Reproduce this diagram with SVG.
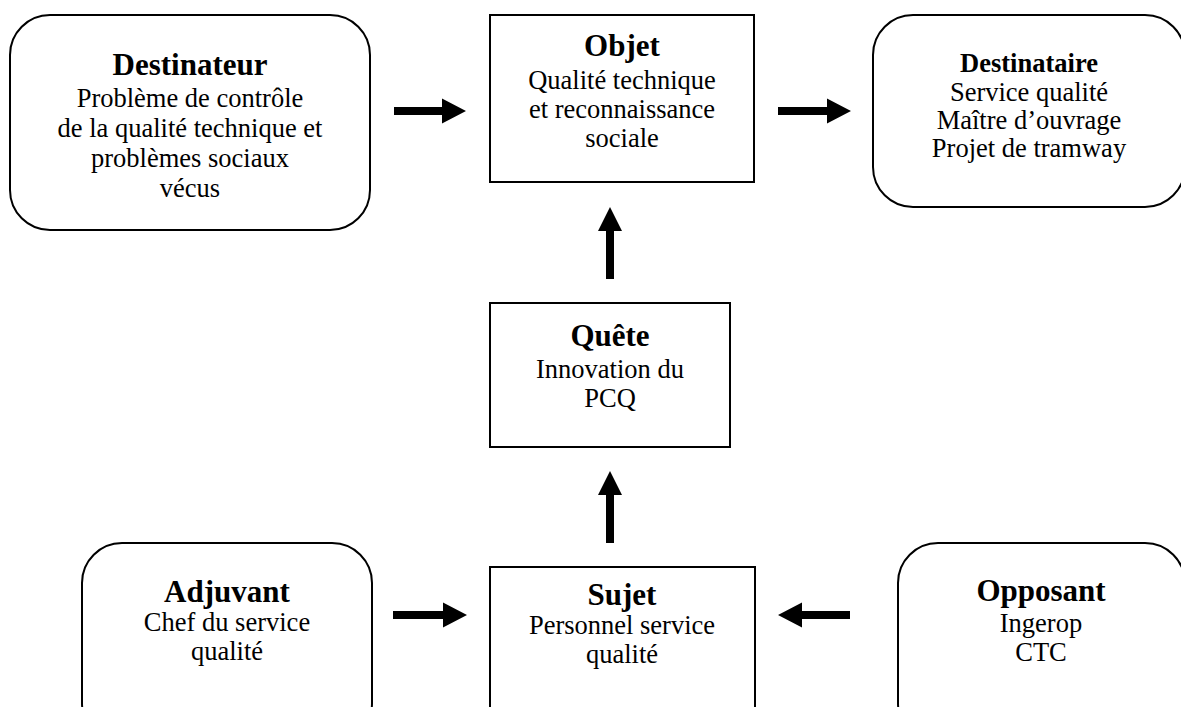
<svg xmlns="http://www.w3.org/2000/svg" width="1181" height="707" viewBox="0 0 1181 707">
<style>
.box{fill:#fff;stroke:#000;stroke-width:2}
.t{font-family:"Liberation Serif","Times New Roman",serif;font-weight:bold;font-size:31px;text-anchor:middle;fill:#000}
.ts{font-family:"Liberation Serif","Times New Roman",serif;font-weight:bold;font-size:26.5px;text-anchor:middle;fill:#000}
.b{font-family:"Liberation Serif","Times New Roman",serif;font-size:26.5px;text-anchor:middle;fill:#000}
.arr{fill:#000}
</style>
<rect width="1181" height="707" fill="#fff"/>
<g id="destinateur">
<rect class="box" x="10" y="15" width="360" height="215" rx="40" ry="40"/>
<text class="t" x="190" y="75">Destinateur</text>
<text class="b" x="190" y="107">Problème de contrôle</text>
<text class="b" x="190" y="137">de la qualité technique et</text>
<text class="b" x="190" y="167">problèmes sociaux</text>
<text class="b" x="190" y="197">vécus</text>
</g>
<g id="objet">
<rect class="box" x="490" y="15" width="264" height="167"/>
<text class="t" x="622" y="56">Objet</text>
<text class="b" x="622" y="89">Qualité technique</text>
<text class="b" x="622" y="118">et reconnaissance</text>
<text class="b" x="622" y="147">sociale</text>
</g>
<g id="destinataire">
<rect class="box" x="873" y="15" width="312" height="192" rx="40" ry="40"/>
<text class="ts" x="1029" y="72">Destinataire</text>
<text class="b" x="1029" y="101">Service qualité</text>
<text class="b" x="1029" y="129">Maître d’ouvrage</text>
<text class="b" x="1029" y="157">Projet de tramway</text>
</g>
<g id="quete">
<rect class="box" x="490" y="303" width="240" height="144"/>
<text class="t" x="610" y="346">Quête</text>
<text class="b" x="610" y="378">Innovation du</text>
<text class="b" x="610" y="407">PCQ</text>
</g>
<g id="adjuvant">
<rect class="box" x="82" y="543" width="290" height="200" rx="40" ry="40"/>
<text class="t" x="227" y="602">Adjuvant</text>
<text class="b" x="227" y="631">Chef du service</text>
<text class="b" x="227" y="660">qualité</text>
</g>
<g id="sujet">
<rect class="box" x="490" y="567" width="265" height="180"/>
<text class="t" x="622" y="605">Sujet</text>
<text class="b" x="622" y="634">Personnel service</text>
<text class="b" x="622" y="663">qualité</text>
</g>
<g id="opposant">
<rect class="box" x="898" y="543" width="287" height="200" rx="40" ry="40"/>
<text class="t" x="1041" y="601">Opposant</text>
<text class="b" x="1041" y="632">Ingerop</text>
<text class="b" x="1041" y="661">CTC</text>
</g>
<g id="connectors">
<polygon class="arr" points="394,107 442,107 442,98.5 466,111 442,123.5 442,115 394,115"/>
<polygon class="arr" points="778,107 827,107 827,98.5 851,111 827,123.5 827,115 778,115"/>
<polygon class="arr" points="606,279 606,231 598,231 610,207 622,231 614,231 614,279"/>
<polygon class="arr" points="606,543 606,495 598,495 610,471 622,495 614,495 614,543"/>
<polygon class="arr" points="393,611 443,611 443,602.5 467,615 443,627.5 443,619 393,619"/>
<polygon class="arr" points="850,611 802,611 802,602.5 778,615 802,627.5 802,619 850,619"/>
</g>
</svg>
